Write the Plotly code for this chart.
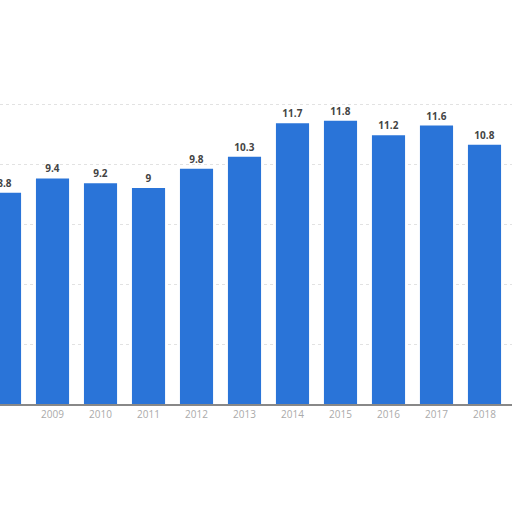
import plotly.graph_objects as go

years = ['2008', '2009', '2010', '2011', '2012', '2013', '2014', '2015', '2016', '2017', '2018']
values = [8.8, 9.4, 9.2, 9, 9.8, 10.3, 11.7, 11.8, 11.2, 11.6, 10.8]

fig = go.Figure()
fig.add_trace(go.Bar(x=list(range(len(years))), y=values,
                     marker=dict(color='#2a74d8', line=dict(width=0)),
                     width=0.69,
                     text=[str(v) for v in values],
                     textposition='outside',
                     textfont=dict(family='Open Sans', size=10, color='#444444', weight='bold'),
                     cliponaxis=False))

fig.update_layout(width=512, height=512,
                  margin=dict(l=0, r=0, t=0, b=108),
                  paper_bgcolor='white', plot_bgcolor='white',
                  showlegend=False,
                  xaxis=dict(range=[-0.094, 10.573],
                             tickvals=list(range(len(years))), ticktext=years,
                             tickfont=dict(family='Open Sans', size=10, color='#aaaaaa'),
                             showgrid=False, showline=True, linecolor='#888888', linewidth=2,
                             ticks=''),
                  yaxis=dict(range=[0, 404/24], tickvals=[0, 2.5, 5, 7.5, 10, 12.5],
                             showticklabels=False, showgrid=True,
                             gridcolor='#e2e2e2', griddash='dot', zeroline=False))

# drop the page's default body margin so the figure sits at the window's corner
fig.write_html("out.html", config={'displayModeBar': False},
               post_script="document.body.style.margin='0';")
